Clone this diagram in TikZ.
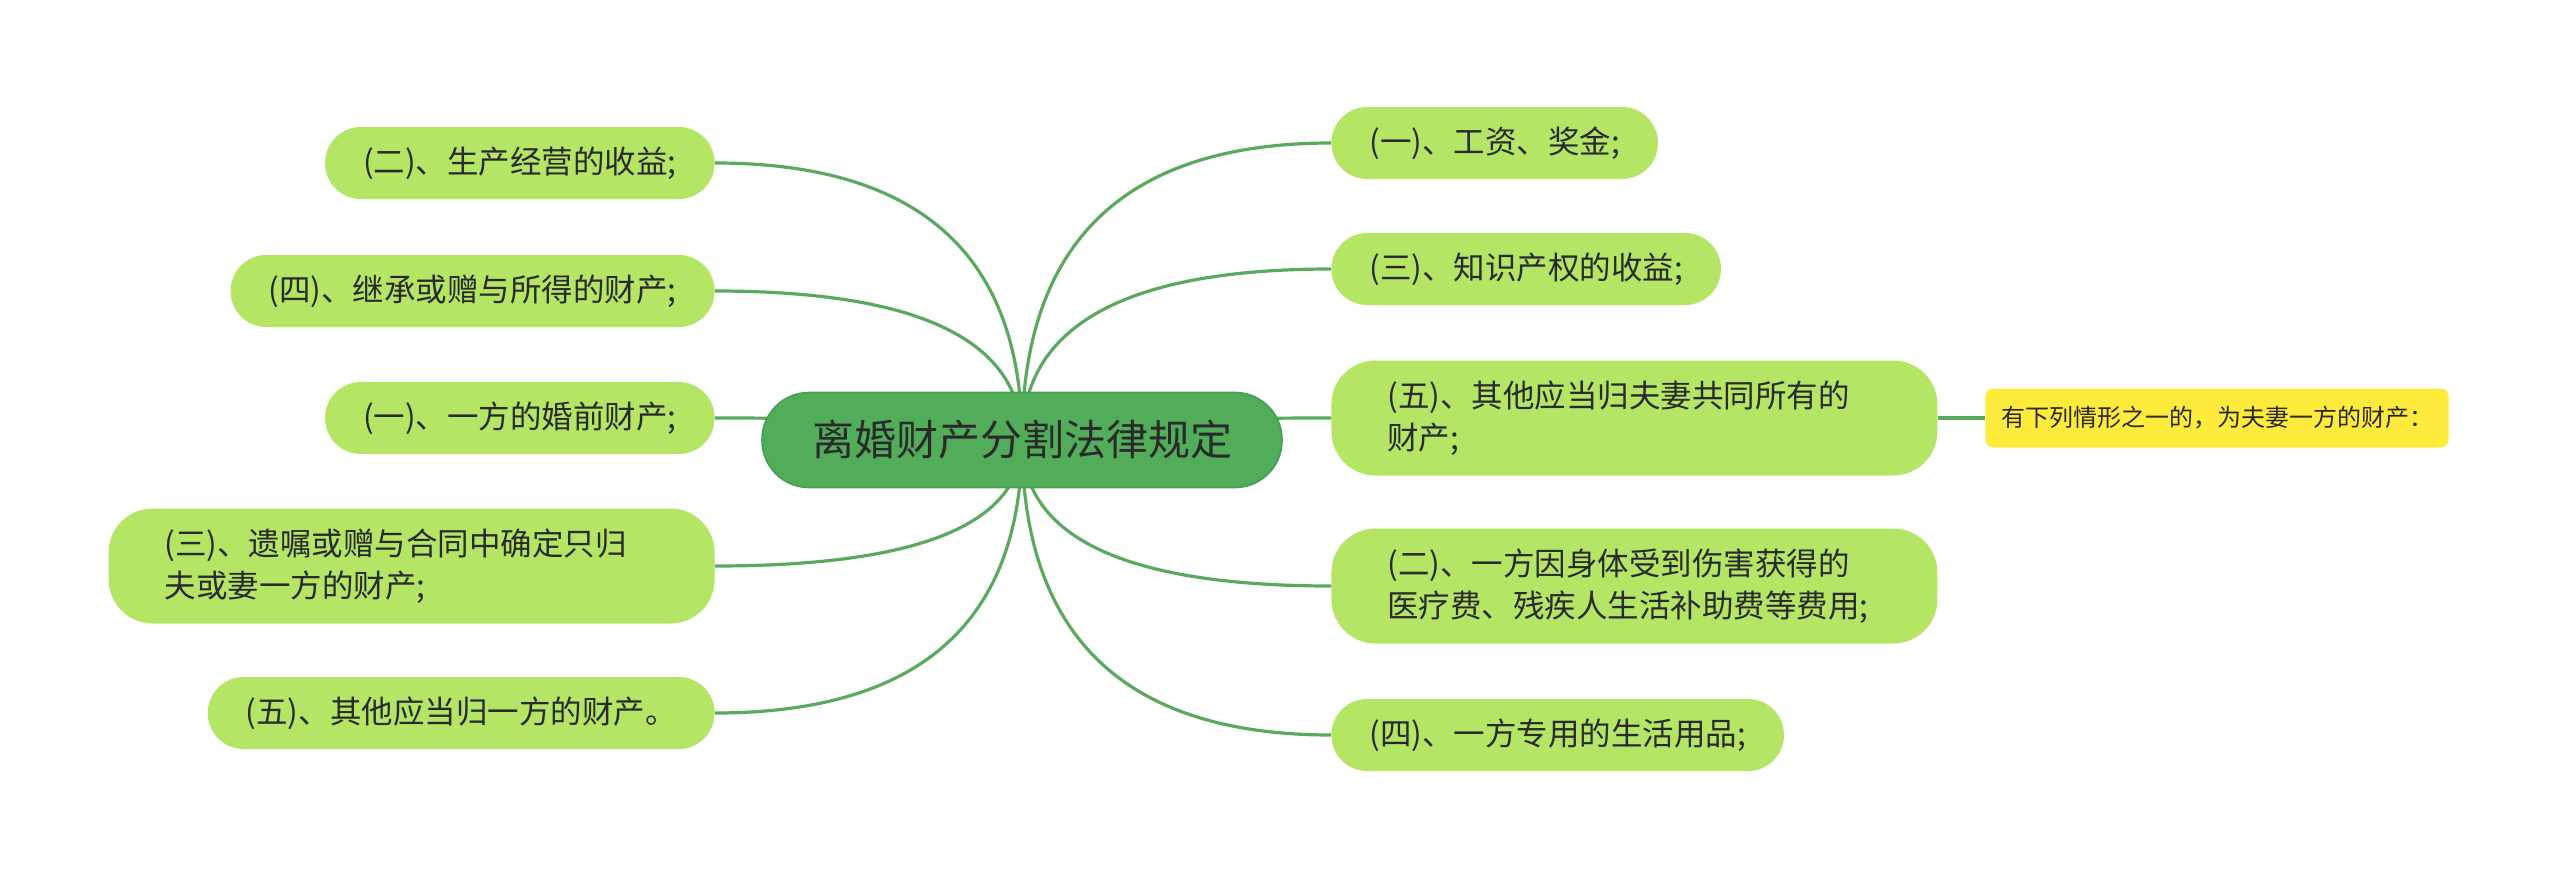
\documentclass[tikz,border=0pt]{standalone}
\usepackage{fontspec}
\newfontfamily\cjk{Noto Sans CJK SC}
\usepackage{tikz}
\usetikzlibrary{calc,backgrounds}
\definecolor{rootgreen}{HTML}{52AD5B}
\definecolor{rootedge}{HTML}{479E50}
\definecolor{leafgreen}{HTML}{B4E564}
\definecolor{linegreen}{HTML}{5AAA5E}
\definecolor{noteyellow}{HTML}{FFEB3B}
\definecolor{inkgray}{HTML}{2A2A2A}

\begin{document}
\begin{tikzpicture}[x=0.5pt,y=-0.5pt,
  rootbox/.style={fill=rootgreen,draw=rootedge,line width=0.8pt,text=inkgray,
    font=\cjk\fontsize{21}{25}\selectfont,minimum width=260pt,minimum height=47.5pt,
    rounded corners=23.5pt},
  leaf/.style={fill=leafgreen,text=inkgray,font=\cjk\fontsize{15.75}{21}\selectfont,
    minimum height=36pt,inner xsep=19pt,inner ysep=0pt,rounded corners=17.9pt},
  leaftwo/.style={leaf,text width=247pt,align=left,minimum height=57.5pt,
    inner xsep=28pt,rounded corners=22pt},
  notebox/.style={fill=noteyellow,text=inkgray,font=\cjk\fontsize{12}{14}\selectfont,
    minimum height=29.5pt,inner xsep=7.8pt,rounded corners=4pt},
  branch/.style={draw=linegreen,line width=1.6pt,
    to path={.. controls ($(\tikztostart)!0.667!(\tikztostart |- \tikztotarget)$)
      and ($(\tikztotarget)!0.667!(\tikztostart |- \tikztotarget)$) .. (\tikztotarget)}}]
  \useasboundingbox (0,0) rectangle (2560,878);
  % centre topic
  \node[rootbox] (root) at (1022,440) {离婚财产分割法律规定};
  % left side
  \node[leaf,anchor=east] (l1) at (715,163) {(二)、生产经营的收益;};
  \node[leaf,anchor=east] (l2) at (715,291) {(四)、继承或赠与所得的财产;};
  \node[leaf,anchor=east] (l3) at (715,418) {(一)、一方的婚前财产;};
  \node[leaftwo,anchor=east] (l4) at (715,566) {(三)、遗嘱或赠与合同中确定只归\\夫或妻一方的财产;};
  \node[leaf,anchor=east] (l5) at (715,713) {(五)、其他应当归一方的财产。};
  % right side
  \node[leaf,anchor=west] (r1) at (1331,143) {(一)、工资、奖金;};
  \node[leaf,anchor=west] (r2) at (1331,269) {(三)、知识产权的收益;};
  \node[leaftwo,anchor=west] (r3) at (1331,418) {(五)、其他应当归夫妻共同所有的\\财产;};
  \node[leaftwo,anchor=west] (r4) at (1331,586) {(二)、一方因身体受到伤害获得的\\医疗费、残疾人生活补助费等费用;};
  \node[leaf,anchor=west] (r5) at (1331,735) {(四)、一方专用的生活用品;};
  \node[notebox,anchor=west] (note) at (1985,418) {有下列情形之一的，为夫妻一方的财产：};
  % connectors
  \begin{scope}[on background layer]
    \foreach \n in {l1,l2,l3,l4,l5} \draw[branch] (root.center) to (\n.east);
    \foreach \n in {r1,r2,r3,r4,r5} \draw[branch] (root.center) to (\n.west);
    \draw[draw=linegreen,line width=1.6pt] (r3.east) -- (note.west);
  \end{scope}
\end{tikzpicture}
\end{document}
